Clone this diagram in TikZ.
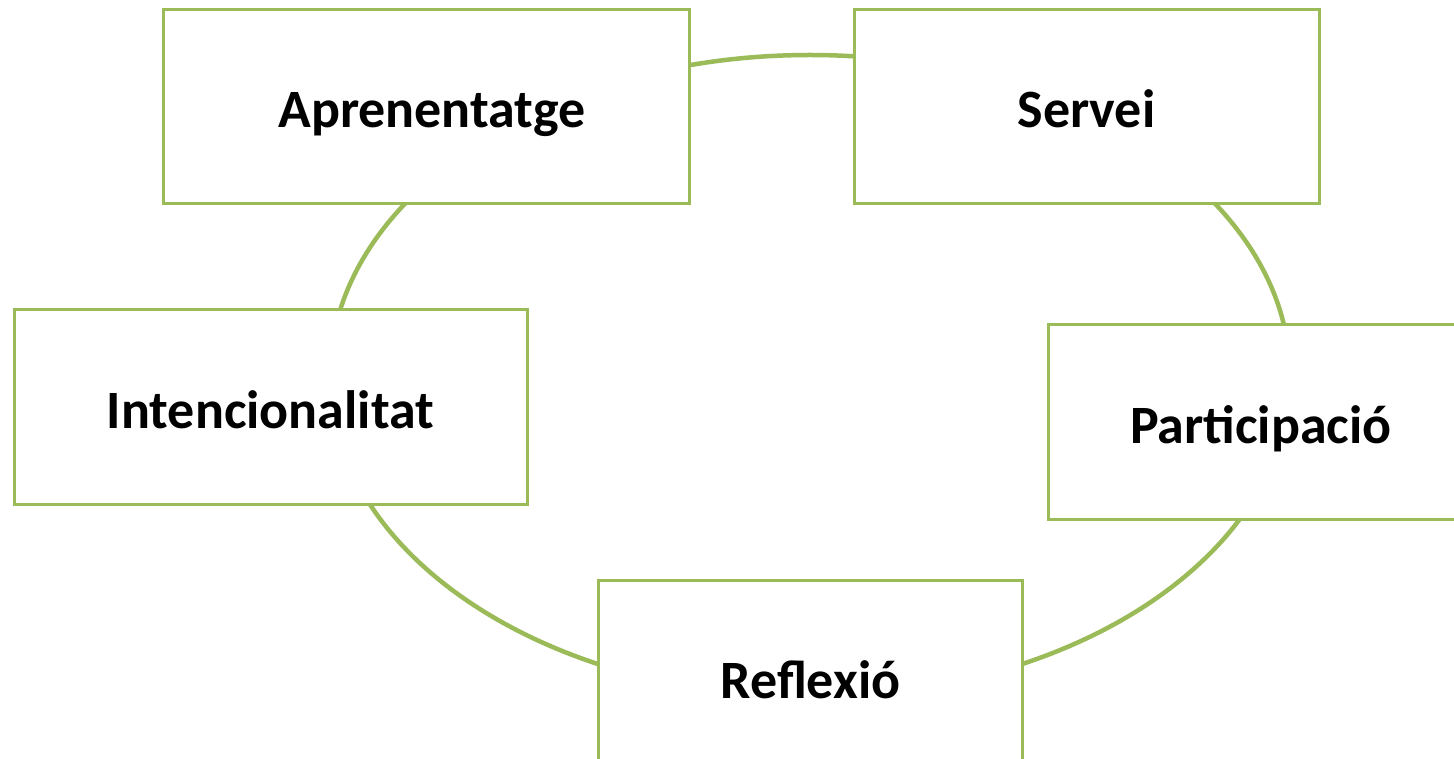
\documentclass[tikz,border=0pt]{standalone}
\usepackage{fontspec}
\setmainfont{Carlito}
\definecolor{olive}{HTML}{9BBB59}
\begin{document}
\begin{tikzpicture}[x=1pt,y=-1pt,
  box/.style={draw=olive,line width=3pt,fill=white,rectangle,minimum width=#1,minimum height=194pt,inner sep=0pt,text height=42pt,text depth=0pt,font=\fontsize{54}{60}\selectfont\bfseries},
  ring/.style={draw=olive,line width=4.5pt}]
\useasboundingbox (0,0) rectangle (1454,759);
\clip (0,0) rectangle (1454,759);
\draw[ring] (810,376) ellipse [x radius=480pt, y radius=321pt];
\node[box=526pt] (apr) at (426,107) {\hspace*{12pt}Aprenentatge};
\node[box=465pt] (ser) at (1086.5,107) {Servei};
\node[box=513pt] (int) at (270.5,407) {Intencionalitat};
\node[box=426pt] (par) at (1261,422) {Participació};
\node[box=424pt] (ref) at (810.5,677) {Reflexió};
\end{tikzpicture}
\end{document}
